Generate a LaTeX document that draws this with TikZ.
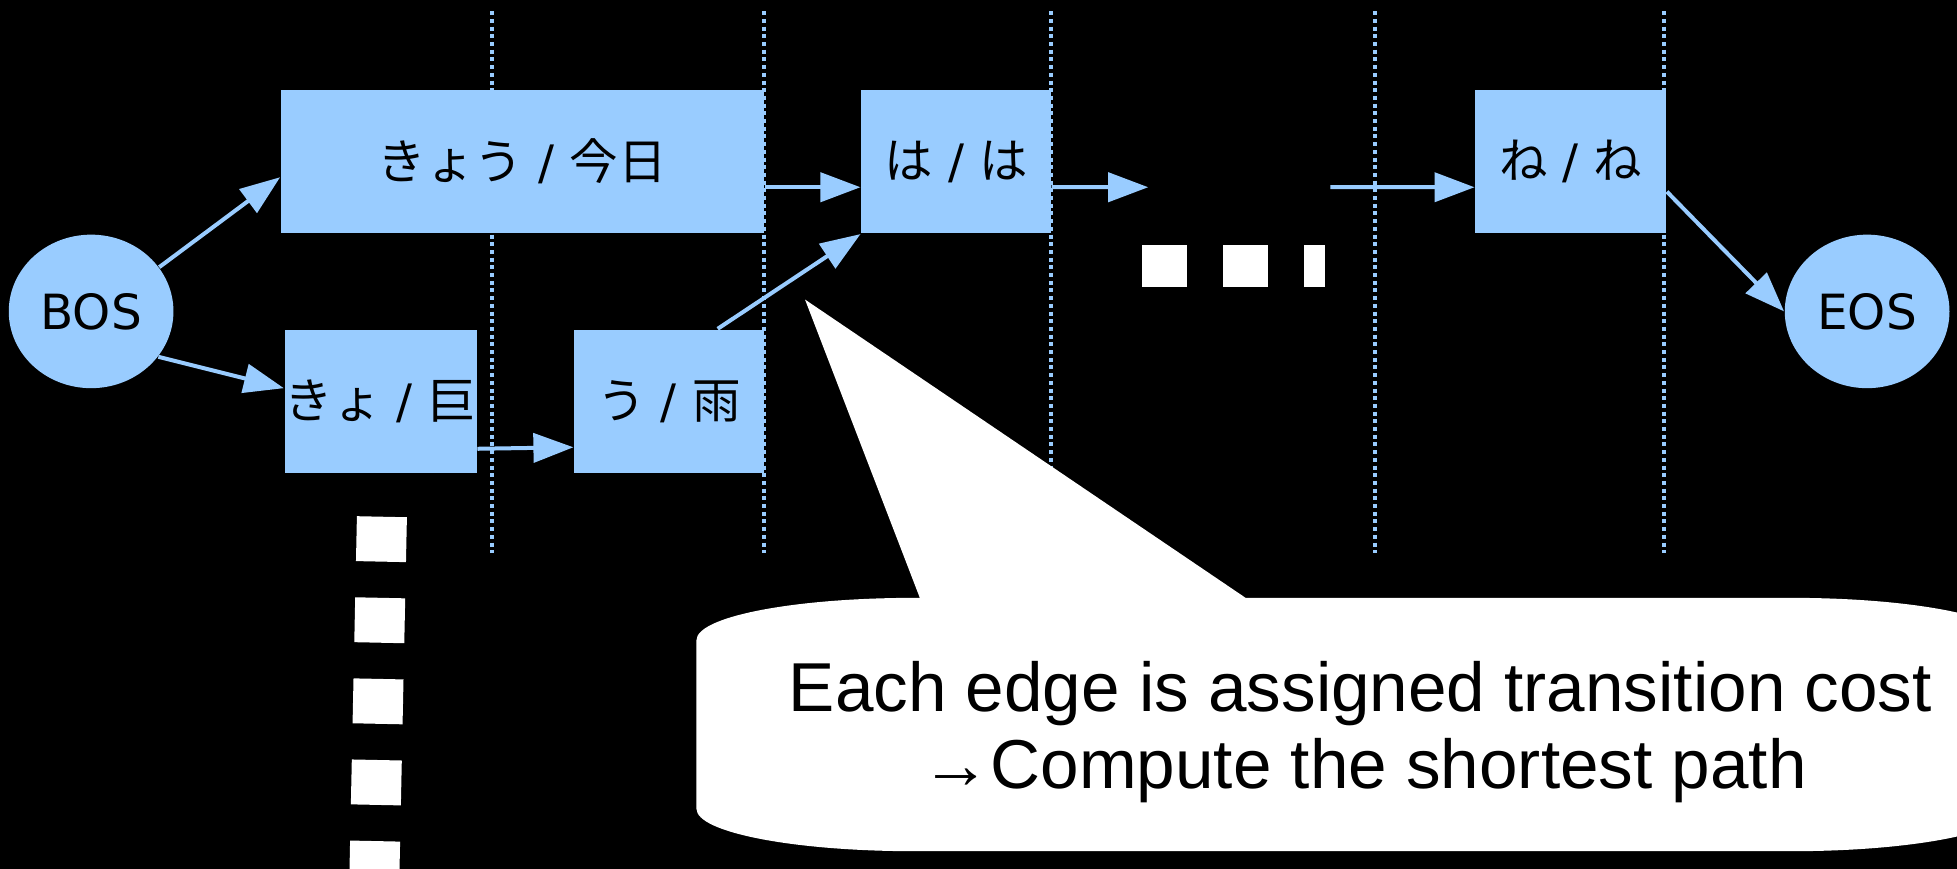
\documentclass[tikz,border=0pt]{standalone}
\usepackage{fontspec}
\setmainfont{DejaVu Sans}
\newfontfamily\cjkfont{Noto Sans CJK JP}
\newcommand{\jp}[1]{{\cjkfont\fontsize{13.8}{16}\selectfont #1}}
\newfontfamily\notefont{Liberation Sans}
\usetikzlibrary{arrows.meta,shapes.geometric}
\definecolor{lblue}{HTML}{99CCFF}
\begin{document}
\begin{tikzpicture}[x=0.1248mm,y=-0.1248mm,
  box/.style={fill=lblue,inner sep=0pt,text=black,font=\fontsize{13.5}{16}\selectfont,minimum height=14.35mm},
  term/.style={ellipse,fill=lblue,minimum width=16.47mm,minimum height=15.35mm,inner sep=0pt,font=\fontsize{13.8}{16}\selectfont},
  gridline/.style={lblue,line width=0.4mm,dash pattern=on 0.4mm off 0.37mm},
  edge/.style={lblue,line width=0.4mm,-{Triangle[length=4mm,width=2.9mm]}},
  blot/.style={white,dash pattern=on 4.49mm off 3.62mm},
  notetext/.style={anchor=base,inner sep=0pt,font=\notefont\fontsize{19.7}{22}\selectfont}
]
\fill[black] (0,0) rectangle (1568,696);
\useasboundingbox (0,0) rectangle (1568,696);
% column separators
\foreach \x in {394,612,842,1102,1333} \draw[gridline] (\x,9) -- (\x,443);
% callout
\fill[white] (558,513) .. controls (558,494) and (636,479) .. (733,479) -- (737,479) -- (645,240) -- (998,479) -- (1435,479)
  .. controls (1532,479) and (1610,494) .. (1610,513) -- (1610,648)
  .. controls (1610,667) and (1532,682) .. (1435,682) -- (733,682)
  .. controls (636,682) and (558,667) .. (558,648) -- cycle;
\node[notetext] (note1) at (1090,570) {Each edge is assigned transition cost};
\node[notetext] (note2) at (1093,632) {→Compute the shortest path};
% nodes
\node[box,minimum width=48.3mm] (kyou) at (418.5,129.5) {\jp{きょう} / \jp{今日}};
\node[box,minimum width=18.97mm] (ha) at (766,129.5) {\jp{は} / \jp{は}};
\node[box,minimum width=19.09mm] (ne) at (1258.5,129.5) {\jp{ね} / \jp{ね}};
\node[box,minimum width=19.22mm] (kyo) at (305,321.5) {\jp{きょ} / \jp{巨}};
\node[box,minimum width=18.97mm] (u) at (536,321.5) {\jp{う} / \jp{雨}};
\node[term] (bos) at (73,249.5) {BOS};
\node[term] (eos) at (1496,249.5) {EOS};
\coordinate (c1) at (920,150);
\coordinate (c2) at (1066,150);
% edges
\draw[edge] (bos.33) -- ([yshift=-1.56mm]kyou.west);
\draw[edge] (bos.-34) -- ([yshift=1.31mm]kyo.west);
\draw[edge] ([yshift=-4.75mm]kyo.east) -- ([yshift=-4.6mm]u.west);
\draw[edge] ([xshift=4.87mm]u.north) -- (ha.south west);
\draw[edge] ([yshift=-2.56mm]kyou.east) -- ([yshift=-2.56mm]ha.west);
\draw[edge] ([yshift=-2.56mm]ha.east) -- (c1);
\draw[edge] (c2) -- ([yshift=-2.56mm]ne.west);
\draw[edge] ([yshift=-3mm]ne.east) -- (eos.west);
% ellipsis marks
\draw[blot,line width=4.24mm] (915,213) -- (1062,213);
\draw[blot,line width=5mm] (306,414) -- (300,700);
\end{tikzpicture}
\end{document}
